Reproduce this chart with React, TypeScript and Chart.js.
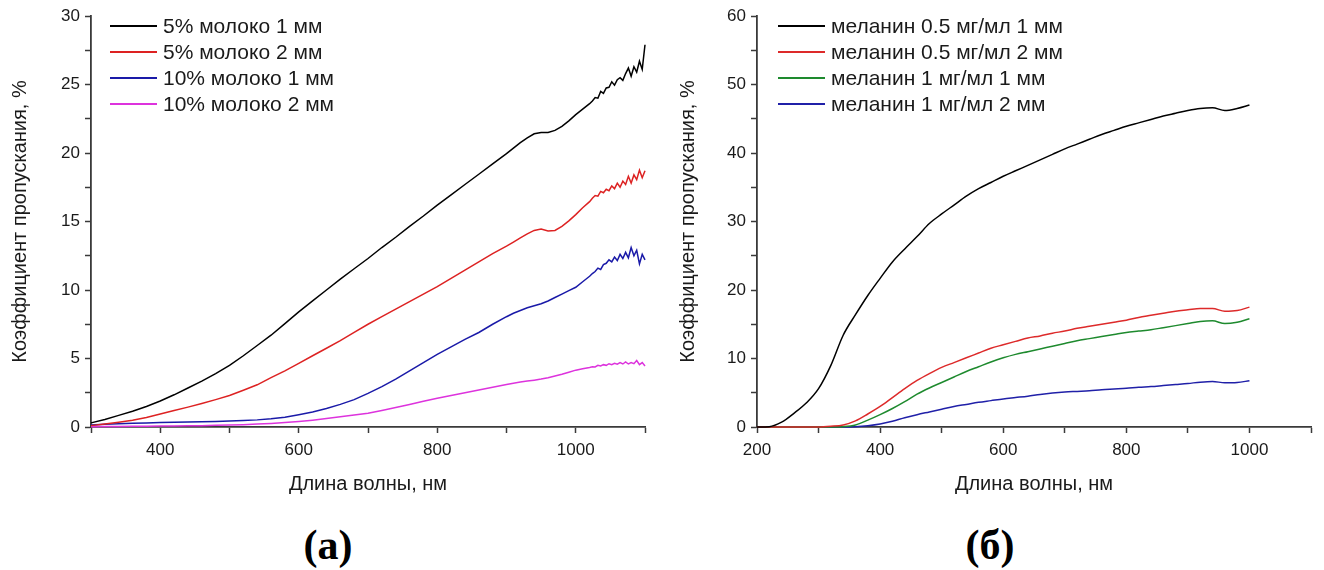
import React, { useEffect, useRef } from "react";
import { Chart, registerables } from "chart.js";

Chart.register(...registerables);

// ---------- Panel (а): milk ----------
const WL_A = [
  300, 320, 340, 360, 380, 400, 420, 440, 460, 480, 500, 520, 540, 560, 580, 600,
  620, 640, 660, 680, 700, 720, 740, 760, 780, 800, 820, 840, 860, 880, 900,
  910, 920, 930, 940, 950, 960, 970, 980, 990, 1000, 1010, 1020,
  1024, 1028, 1032, 1036, 1040, 1044, 1048, 1052, 1056, 1060, 1064, 1068, 1072,
  1076, 1080, 1084, 1088, 1092, 1096, 1100,
];
const MILK5_1MM = [
  0.3, 0.55, 0.85, 1.15, 1.5, 1.9, 2.35, 2.85, 3.35, 3.9, 4.5, 5.2, 5.95, 6.7, 7.55, 8.4,
  9.2, 10.0, 10.8, 11.55, 12.3, 13.1, 13.85, 14.65, 15.4, 16.2, 16.95, 17.7, 18.45, 19.2, 19.95,
  20.35, 20.75, 21.1, 21.4, 21.5, 21.5, 21.65, 21.95, 22.35, 22.8, 23.2, 23.6,
  23.8, 24.05, 24.0, 24.5, 24.35, 24.75, 24.8, 25.2, 24.95, 25.35, 25.5, 25.3, 25.8,
  26.2, 25.6, 26.3, 25.9, 26.7, 26.1, 27.9,
];
const MILK5_2MM = [
  0.1, 0.22, 0.35, 0.5, 0.7, 0.95, 1.2, 1.45, 1.72, 2.0, 2.3, 2.68, 3.08, 3.6, 4.1, 4.65,
  5.2, 5.75, 6.3, 6.9, 7.5, 8.05, 8.6, 9.15, 9.7, 10.25, 10.85, 11.45, 12.05, 12.65, 13.2,
  13.5, 13.8, 14.1, 14.35, 14.45, 14.3, 14.35, 14.65, 15.05, 15.5, 16.0, 16.45,
  16.7, 16.9, 16.85, 17.2, 17.1, 17.35, 17.25, 17.6, 17.4, 17.8, 17.5, 17.95, 17.7,
  18.3, 17.8, 18.4, 18.05, 18.75, 18.2, 18.7,
];
const MILK10_1MM = [
  0.15, 0.2, 0.24, 0.27, 0.3, 0.32, 0.34, 0.36, 0.38, 0.4, 0.43, 0.47, 0.52, 0.6, 0.72, 0.9,
  1.1, 1.35, 1.65, 2.0, 2.45, 2.95, 3.5, 4.1, 4.7, 5.3, 5.85, 6.4, 6.9, 7.5, 8.05,
  8.3, 8.5, 8.7, 8.85, 9.0, 9.2, 9.45, 9.7, 9.95, 10.2, 10.6, 11.0,
  11.2, 11.35, 11.6, 11.5, 11.85, 11.95, 12.2, 12.05, 12.4, 12.15, 12.6, 12.3, 12.75,
  12.35, 13.1, 12.5, 12.9, 11.9, 12.6, 12.2,
];
const MILK10_2MM = [
  0.02, 0.03, 0.04, 0.05, 0.06, 0.07, 0.08, 0.09, 0.1, 0.12, 0.14, 0.17, 0.21, 0.26, 0.32, 0.4,
  0.5, 0.62, 0.74, 0.87, 1.0, 1.2, 1.42, 1.65, 1.88, 2.1, 2.3, 2.5, 2.7, 2.9, 3.1,
  3.2, 3.28, 3.35, 3.42, 3.5, 3.6, 3.72, 3.85, 4.0, 4.15, 4.25, 4.35,
  4.4, 4.38, 4.5, 4.45, 4.55, 4.5, 4.62, 4.55, 4.65, 4.58, 4.7, 4.6, 4.75,
  4.6, 4.7, 4.62, 4.85, 4.55, 4.7, 4.45,
];
const LABELS_A = ["5% молоко 1 мм", "5% молоко 2 мм", "10% молоко 1 мм", "10% молоко 2 мм"];
const X_LABELS_A = [400, 600, 800, 1000];

// ---------- Panel (б): melanin ----------
const WL_B = [
  200, 220, 240, 260, 280, 300, 320, 340, 360, 380, 400, 420, 440, 460, 480, 500,
  520, 540, 560, 580, 600, 620, 640, 660, 680, 700, 720, 740, 760, 780, 800, 820,
  840, 860, 880, 900, 920, 940, 960, 980, 1000,
];
const MEL05_1MM = [
  0, 0.05, 0.7, 2.0, 3.5, 5.6, 9.0, 13.4, 16.4, 19.2, 21.7, 24.1, 26.0, 27.8, 29.7, 31.1,
  32.4, 33.7, 34.8, 35.7, 36.6, 37.4, 38.2, 39.0, 39.8, 40.6, 41.3, 42.0, 42.7, 43.3, 43.9, 44.4,
  44.9, 45.4, 45.8, 46.2, 46.5, 46.6, 46.2, 46.5, 47.0,
];
const MEL05_2MM = [
  0, 0, 0, 0, 0, 0, 0.1, 0.3, 0.9, 1.9, 3.0, 4.3, 5.6, 6.8, 7.8, 8.7,
  9.4, 10.1, 10.8, 11.5, 12.0, 12.5, 13.0, 13.3, 13.7, 14.0, 14.4, 14.7, 15.0, 15.3, 15.6, 16.0,
  16.3, 16.6, 16.9, 17.1, 17.3, 17.3, 16.9, 17.0, 17.5,
];
const MEL1_1MM = [
  0, 0, 0, 0, 0, 0, 0, 0.05, 0.3, 1.0, 1.8, 2.7, 3.7, 4.8, 5.7, 6.5,
  7.3, 8.1, 8.8, 9.5, 10.1, 10.6, 11.0, 11.4, 11.8, 12.2, 12.6, 12.9, 13.2, 13.5, 13.8, 14.0,
  14.2, 14.5, 14.8, 15.1, 15.4, 15.5, 15.1, 15.3, 15.8,
];
const MEL1_2MM = [
  0, 0, 0, 0, 0, 0, 0, 0, 0.05, 0.2, 0.45, 0.85, 1.35, 1.8, 2.2, 2.6,
  3.0, 3.3, 3.6, 3.85, 4.1, 4.3, 4.5, 4.75, 4.95, 5.1, 5.2, 5.3, 5.45, 5.55, 5.65, 5.8,
  5.9, 6.05, 6.2, 6.35, 6.55, 6.65, 6.45, 6.5, 6.75,
];
const LABELS_B = [
  "меланин 0.5 мг/мл 1 мм",
  "меланин 0.5 мг/мл 2 мм",
  "меланин 1 мг/мл 1 мм",
  "меланин 1 мг/мл 2 мм",
];
const X_LABELS_B = [200, 400, 600, 800, 1000];

const X_TITLE = "Длина волны, нм";
const Y_TITLE = "Коэффициент пропускания, %";
const PANEL_A = "(а)";
const PANEL_B = "(б)";

const COLORS_A = ["#000000", "#dd2222", "#1a1aa8", "#dd33dd"];
const COLORS_B = ["#000000", "#dd2a2a", "#1e8a2e", "#2020a8"];

const FONT = "'Liberation Sans', Arial, Helvetica, sans-serif";
const AXIS = "#3a3a3a";
const TEXT = "#1a1a1a";

const insideLegend = {
  id: "insideLegend",
  afterDatasetsDraw(chart: any, _args: any, opts: any) {
    const { ctx, chartArea } = chart;
    ctx.save();
    ctx.font = opts.font;
    ctx.textBaseline = "middle";
    ctx.textAlign = "left";
    chart.data.datasets.forEach((ds: any, i: number) => {
      const y = chartArea.top + opts.top + i * opts.gap;
      const x0 = chartArea.left + opts.left;
      ctx.strokeStyle = ds.borderColor;
      ctx.lineWidth = opts.lineWidth;
      ctx.beginPath();
      ctx.moveTo(x0, y);
      ctx.lineTo(x0 + opts.lineLen, y);
      ctx.stroke();
      ctx.fillStyle = opts.color;
      ctx.fillText(ds.label, x0 + opts.lineLen + opts.textGap, y + 1);
    });
    ctx.restore();
  },
};

function buildConfig(
  wl: number[],
  series: number[][],
  labels: string[],
  colors: string[],
  xMin: number,
  xMax: number,
  yMax: number,
  yStep: number,
  yMajor: number,
  xLabels: number[],
  yWidth: number,
  yTitlePad: number,
  rightPad: number,
  legendLeft: number,
  smooth: boolean
): any {
  return {
    type: "line",
    data: {
      datasets: series.map((s, i) => ({
        label: labels[i],
        data: s.map((v, j) => ({ x: wl[j], y: v })),
        borderColor: colors[i],
        backgroundColor: colors[i],
        borderWidth: 1.5,
        pointRadius: 0,
        fill: false,
        clip: false,
        tension: smooth ? 0.4 : 0,
        cubicInterpolationMode: smooth ? "monotone" : "default",
      })),
    },
    options: {
      responsive: false,
      animation: false,
      layout: { padding: { left: 0, top: 16, right: rightPad, bottom: 0 } },
      plugins: {
        legend: { display: false },
        tooltip: { enabled: false },
        insideLegend: {
          left: legendLeft,
          top: 10,
          gap: 26,
          lineLen: 47,
          textGap: 6,
          lineWidth: 2,
          font: `21px ${FONT}`,
          color: TEXT,
        },
      },
      scales: {
        x: {
          type: "linear",
          min: xMin,
          max: xMax,
          afterFit: (s: any) => {
            s.height = 73;
          },
          ticks: {
            stepSize: 100,
            autoSkip: false,
            maxRotation: 0,
            color: TEXT,
            padding: 7,
            font: { family: FONT, size: 17 },
            callback: (v: any) => (xLabels.includes(Number(v)) ? String(v) : ""),
          },
          grid: {
            drawOnChartArea: false,
            drawTicks: true,
            tickLength: 6,
            tickColor: AXIS,
            tickWidth: 1.5,
          },
          border: { display: true, color: AXIS, width: 1.8 },
          title: {
            display: true,
            text: X_TITLE,
            color: TEXT,
            font: { family: FONT, size: 20 },
            padding: { top: 0, bottom: 4 },
          },
        },
        y: {
          type: "linear",
          min: 0,
          max: yMax,
          afterFit: (s: any) => {
            s.width = yWidth;
          },
          ticks: {
            stepSize: yStep,
            autoSkip: false,
            color: TEXT,
            padding: 5,
            font: { family: FONT, size: 17 },
            callback: (v: any) => {
              const n = Number(v);
              return Math.abs(n / yMajor - Math.round(n / yMajor)) < 1e-6 ? String(n) : "";
            },
          },
          grid: {
            drawOnChartArea: false,
            drawTicks: true,
            tickLength: 6,
            tickColor: AXIS,
            tickWidth: 1.5,
          },
          border: { display: true, color: AXIS, width: 1.8 },
          title: {
            display: true,
            text: Y_TITLE,
            color: TEXT,
            font: { family: FONT, size: 20 },
            padding: { top: yTitlePad, bottom: 0 },
          },
        },
      },
    },
    plugins: [insideLegend],
  };
}

export default function App() {
  const refA = useRef<HTMLCanvasElement | null>(null);
  const refB = useRef<HTMLCanvasElement | null>(null);

  useEffect(() => {
    const a = new Chart(
      refA.current as HTMLCanvasElement,
      buildConfig(
        WL_A,
        [MILK5_1MM, MILK5_2MM, MILK10_1MM, MILK10_2MM],
        LABELS_A,
        COLORS_A,
        300,
        1100,
        30,
        2.5,
        5,
        X_LABELS_A,
        91,
        8,
        17,
        19,
        false
      )
    );
    const b = new Chart(
      refB.current as HTMLCanvasElement,
      buildConfig(
        WL_B,
        [MEL05_1MM, MEL05_2MM, MEL1_1MM, MEL1_2MM],
        LABELS_B,
        COLORS_B,
        200,
        1100,
        60,
        5,
        10,
        X_LABELS_B,
        95,
        14,
        13,
        21,
        true
      )
    );
    return () => {
      a.destroy();
      b.destroy();
    };
  }, []);

  const panelStyle: React.CSSProperties = {
    position: "absolute",
    width: 120,
    textAlign: "center",
    fontFamily: "'Liberation Serif', 'Times New Roman', serif",
    fontWeight: "bold",
    fontSize: 42,
    lineHeight: "42px",
    color: "#000",
  };

  return (
    <div
      style={{
        position: "fixed",
        left: 0,
        top: 0,
        width: 1324,
        height: 570,
        background: "#fff",
        overflow: "hidden",
      }}
    >
      <div style={{ position: "absolute", left: 0, top: 0, width: 662, height: 500 }}>
        <canvas ref={refA} width={662} height={500} style={{ width: 662, height: 500 }} />
      </div>
      <div style={{ position: "absolute", left: 662, top: 0, width: 662, height: 500 }}>
        <canvas ref={refB} width={662} height={500} style={{ width: 662, height: 500 }} />
      </div>
      <div style={{ ...panelStyle, left: 328 - 60, top: 524 }}>{PANEL_A}</div>
      <div style={{ ...panelStyle, left: 990 - 60, top: 524 }}>{PANEL_B}</div>
    </div>
  );
}
